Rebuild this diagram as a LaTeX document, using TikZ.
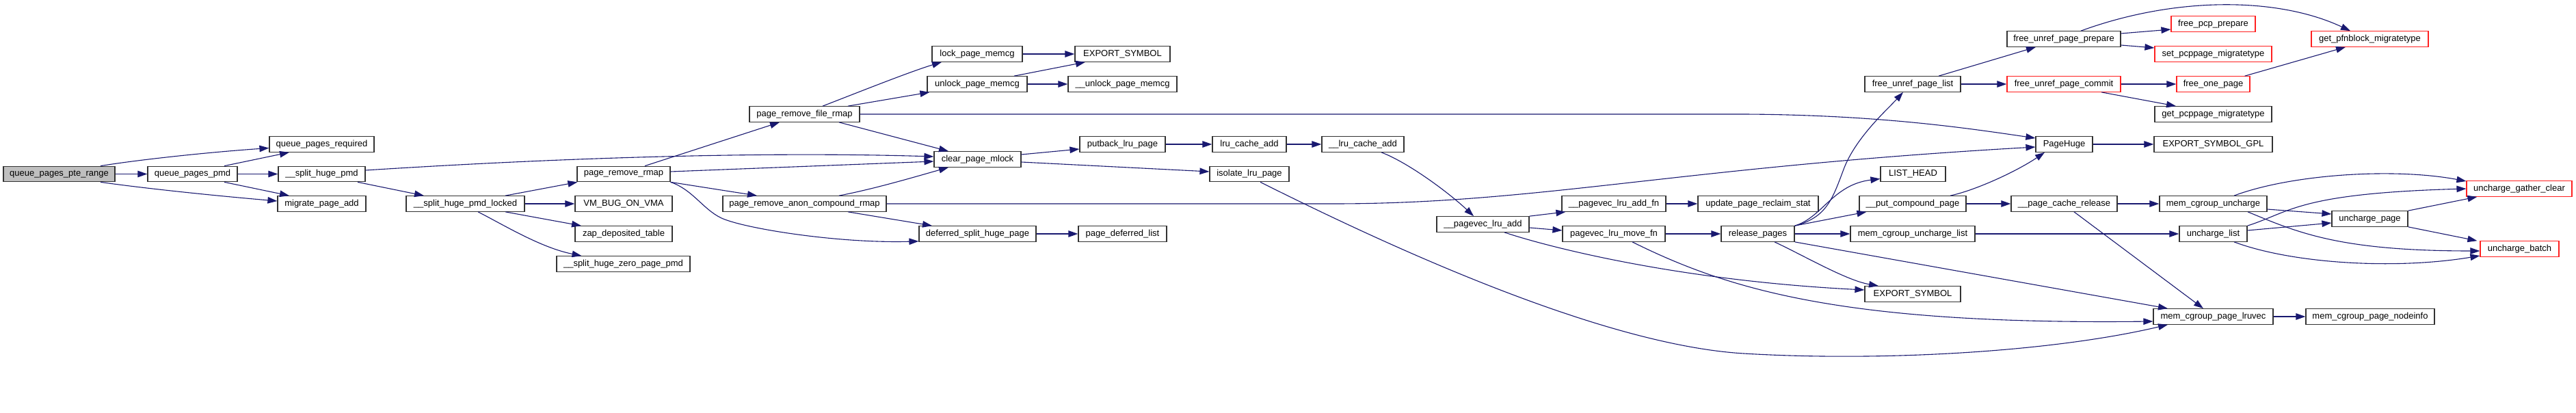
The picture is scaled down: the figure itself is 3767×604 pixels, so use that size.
\documentclass[tikz,border=0pt]{standalone}
\usepackage{fontspec}
\setmainfont{Liberation Sans}
\usetikzlibrary{arrows.meta}
\definecolor{edgeblue}{HTML}{191970}
\definecolor{nodeborder}{HTML}{333333}
\definecolor{rootfill}{HTML}{BFBFBF}
\definecolor{trunc}{HTML}{FF2020}
\begin{document}
\begin{tikzpicture}[x=1pt,y=1pt,
  fn/.style={draw=nodeborder, line width=1.2pt, fill=white, minimum height=22.5pt, inner sep=0pt, font=\fontsize{13}{15}\selectfont},
  tr/.style={fn, draw=trunc},
  root/.style={fn, fill=rootfill},
  edge/.style={draw=edgeblue, line width=1.1pt, -{Triangle[length=14pt,width=9.5pt]}}
]
\useasboundingbox (0,0) rectangle (3767,-604);
\fill[white] (0,0) rectangle (3767,-604);

\node[root, minimum width=163pt] (qpte) at (86.5,-254.5) {queue\_pages\_pte\_range};
\node[fn, minimum width=131pt] (qpmd) at (281.5,-254.5) {queue\_pages\_pmd};
\node[fn, minimum width=153pt] (qreq) at (470.5,-211) {queue\_pages\_required};
\node[fn, minimum width=127pt] (shpmd) at (470.5,-254.5) {\_\_split\_huge\_pmd};
\node[fn, minimum width=129pt] (mpa) at (470.5,-298) {migrate\_page\_add};
\node[fn, minimum width=173pt] (shpl) at (680.5,-298) {\_\_split\_huge\_pmd\_locked};
\node[fn, minimum width=136pt] (prr) at (912,-254.5) {page\_remove\_rmap};
\node[fn, minimum width=142pt] (vmbug) at (912,-298) {VM\_BUG\_ON\_VMA};
\node[fn, minimum width=142pt] (zap) at (912,-342) {zap\_deposited\_table};
\node[fn, minimum width=195pt] (shzp) at (911.5,-386) {\_\_split\_huge\_zero\_page\_pmd};
\node[fn, minimum width=161pt] (prfr) at (1176.5,-167) {page\_remove\_file\_rmap};
\node[fn, minimum width=239pt] (pracr) at (1176.5,-298) {page\_remove\_anon\_compound\_rmap};
\node[fn, minimum width=132pt] (lpm) at (1429,-79) {lock\_page\_memcg};
\node[fn, minimum width=146pt] (upm) at (1429,-123) {unlock\_page\_memcg};
\node[fn, minimum width=127pt] (cpm) at (1429.5,-233) {clear\_page\_mlock};
\node[fn, minimum width=171pt] (dshp) at (1429.5,-342) {deferred\_split\_huge\_page};
\node[fn, minimum width=139pt] (esa) at (1641.5,-79) {EXPORT\_SYMBOL};
\node[fn, minimum width=159pt] (uupm) at (1641.5,-123) {\_\_unlock\_page\_memcg};
\node[fn, minimum width=125pt] (plp) at (1641.5,-211) {putback\_lru\_page};
\node[fn, minimum width=129pt] (pdl) at (1641.5,-342) {page\_deferred\_list};
\node[fn, minimum width=108pt] (lca) at (1827,-211) {lru\_cache\_add};
\node[fn, minimum width=116pt] (ilp) at (1827,-254.5) {isolate\_lru\_page};
\node[fn, minimum width=120pt] (ulca) at (1993,-211) {\_\_lru\_cache\_add};
\node[fn, minimum width=135pt] (pla) at (2168.5,-328) {\_\_pagevec\_lru\_add};
\node[fn, minimum width=152pt] (plafn) at (2360,-298) {\_\_pagevec\_lru\_add\_fn};
\node[fn, minimum width=150pt] (plmf) at (2360,-342) {pagevec\_lru\_move\_fn};
\node[fn, minimum width=176pt] (uprs) at (2571,-298) {update\_page\_reclaim\_stat};
\node[fn, minimum width=107pt] (rp) at (2570.5,-342) {release\_pages};
\node[fn, minimum width=140pt] (fupl) at (2797,-123) {free\_unref\_page\_list};
\node[fn, minimum width=95pt] (lh) at (2797.5,-254.5) {LIST\_HEAD};
\node[fn, minimum width=156pt] (pcp) at (2797,-298) {\_\_put\_compound\_page};
\node[fn, minimum width=182pt] (mcul) at (2797,-342) {mem\_cgroup\_uncharge\_list};
\node[fn, minimum width=140pt] (esb) at (2797,-430) {EXPORT\_SYMBOL};
\node[fn, minimum width=166pt] (fupp) at (3018,-57) {free\_unref\_page\_prepare};
\node[tr, minimum width=166pt] (fupc) at (3018,-123) {free\_unref\_page\_commit};
\node[fn, minimum width=83pt] (ph) at (3018.5,-211) {PageHuge};
\node[fn, minimum width=155pt] (pcr) at (3018.5,-298) {\_\_page\_cache\_release};
\node[tr, minimum width=123pt] (fpp) at (3236.5,-35) {free\_pcp\_prepare};
\node[tr, minimum width=171pt] (spm) at (3236.5,-79) {set\_pcppage\_migratetype};
\node[tr, minimum width=107pt] (fop) at (3236.5,-123) {free\_one\_page};
\node[fn, minimum width=171pt] (gpm) at (3236.5,-167) {get\_pcppage\_migratetype};
\node[fn, minimum width=173pt] (esg) at (3236.5,-211) {EXPORT\_SYMBOL\_GPL};
\node[fn, minimum width=157pt] (mcu) at (3236.5,-298) {mem\_cgroup\_uncharge};
\node[fn, minimum width=99pt] (ul) at (3236.5,-342) {uncharge\_list};
\node[fn, minimum width=175pt] (mcpl) at (3236.5,-463) {mem\_cgroup\_page\_lruvec};
\node[tr, minimum width=171pt] (gpfn) at (3465.5,-57) {get\_pfnblock\_migratetype};
\node[tr, minimum width=154pt] (ugc) at (3684,-276) {uncharge\_gather\_clear};
\node[fn, minimum width=111pt] (up) at (3465.5,-320) {uncharge\_page};
\node[tr, minimum width=115pt] (ub) at (3684.5,-364) {uncharge\_batch};
\node[fn, minimum width=188pt] (mcpn) at (3466,-463) {mem\_cgroup\_page\_nodeinfo};

\draw[edge] ([xshift=60.5pt]qpte.north) .. controls (200,-234) and (300,-223) .. ([yshift=-5.5pt]qreq.west);
\draw[edge] (qpte.east) -- (qpmd.west);
\draw[edge] ([xshift=60.5pt]qpte.south) .. controls (200,-274) and (300,-285) .. ([yshift=4pt]mpa.west);
\draw[edge] ([xshift=46.5pt]qpmd.north) -- ([xshift=-47.5pt]qreq.south);
\draw[edge] (qpmd.east) -- (shpmd.west);
\draw[edge] ([xshift=46.5pt]qpmd.south) -- ([xshift=-47.5pt]mpa.north);
\draw[edge] ([yshift=5.5pt]shpmd.east) .. controls (800,-232) and (1100,-221) .. ([yshift=4pt]cpm.west);
\draw[edge] ([xshift=52.5pt]shpmd.south) -- ([xshift=-60.5pt]shpl.north);
\draw[edge] ([xshift=58.5pt]shpl.north) -- ([xshift=1pt]prr.south west);
\draw[edge] (shpl.east) -- (vmbug.west);
\draw[edge] ([xshift=58.5pt]shpl.south) -- ([xshift=-62pt]zap.north);
\draw[edge] ([xshift=18.5pt]shpl.south) .. controls (735,-328) and (790,-362) .. ([xshift=-61pt]shzp.north);
\draw[edge] ([xshift=31pt]prr.north) -- ([xshift=-36.5pt]prfr.south);
\draw[edge] ([yshift=3.5pt]prr.east) -- ([yshift=-3pt]cpm.west);
\draw[edge] (prr.south east) -- ([xshift=-69.5pt]pracr.north);
\draw[edge] (prr.south east) .. controls (1015,-278) and (1030,-310) .. (1060,-321) .. controls (1100,-336) and (1230,-356) .. ([yshift=1pt]dshp.south west);
\draw[edge] ([xshift=26.5pt]prfr.north) .. controls (1250,-137) and (1330,-105) .. ([xshift=-52pt]lpm.south);
\draw[edge] ([xshift=63.5pt]prfr.north) -- ([xshift=4pt]upm.south west);
\draw[edge] (prfr.east) -- (2550,-167) .. controls (2750,-168) and (2880,-188) .. ([yshift=9pt]ph.west);
\draw[edge] ([xshift=50.5pt]prfr.south) -- ([xshift=-42.5pt]cpm.north);
\draw[edge] ([xshift=50.5pt]pracr.north) .. controls (1280,-276) and (1340,-258) .. ([xshift=-42.5pt]cpm.south);
\draw[edge] (pracr.east) -- (1950,-298) .. controls (2250,-298) and (2450,-245) .. ([yshift=-4pt]ph.west);
\draw[edge] ([xshift=63.5pt]pracr.south) -- ([xshift=-66.5pt]dshp.north);
\draw[edge] (lpm.east) -- (esa.west);
\draw[edge] ([xshift=54pt]upm.north) -- ([xshift=-54.5pt]esa.south);
\draw[edge] (upm.east) -- (uupm.west);
\draw[edge] (dshp.east) -- (pdl.west);
\draw[edge] ([yshift=7pt]cpm.east) -- ([yshift=-7pt]plp.west);
\draw[edge] ([yshift=-4pt]cpm.east) -- ([yshift=3.5pt]ilp.west);
\draw[edge] (plp.east) -- (lca.west);
\draw[edge] (lca.east) -- (ulca.west);
\draw[edge] ([xshift=27pt]ulca.south) .. controls (2060,-238) and (2120,-283) .. ([xshift=-13.5pt]pla.north);
\draw[edge] ([xshift=16pt]ilp.south) .. controls (2050,-370) and (2350,-505) .. (2550,-517) .. controls (2750,-529) and (3000,-515) .. ([xshift=-66.5pt]mcpl.south);
\draw[edge] (pla.north east) -- ([xshift=6pt]plafn.south west);
\draw[edge] ([yshift=-5pt]pla.east) -- ([yshift=5pt]plmf.west);
\draw[edge] ([xshift=31.5pt]pla.south) .. controls (2260,-360) and (2450,-410) .. ([yshift=6pt]esb.west);
\draw[edge] (plafn.east) -- (uprs.west);
\draw[edge] (plmf.east) -- (rp.west);
\draw[edge] ([xshift=27pt]plmf.south) .. controls (2530,-425) and (2700,-475) .. ([yshift=-7pt]mcpl.west);
\draw[edge] (rp.north east) .. controls (2672,-318) and (2680,-290) .. (2697,-245) .. controls (2715,-200) and (2760,-160) .. ([xshift=-14pt]fupl.south);
\draw[edge] (rp.north east) .. controls (2665,-318) and (2680,-270) .. ([yshift=-7pt]lh.west);
\draw[edge] (rp.north east) -- ([xshift=11pt]pcp.south west);
\draw[edge] (rp.east) -- (mcul.west);
\draw[edge] ([xshift=24.5pt]rp.south) .. controls (2640,-375) and (2700,-410) .. ([xshift=-50pt]esb.north);
\draw[edge] (rp.south east) -- ([xshift=-66.5pt]mcpl.north);
\draw[edge] ([xshift=38pt]fupl.north) -- ([xshift=-41pt]fupp.south);
\draw[edge] (fupl.east) -- (fupc.west);
\draw[edge] ([xshift=55pt]pcp.north) .. controls (2890,-278) and (2950,-250) .. ([xshift=-28.5pt]ph.south);
\draw[edge] (pcp.east) -- (pcr.west);
\draw[edge] (mcul.east) -- (ul.west);
\draw[edge] ([xshift=25pt]fupp.north) .. controls (3180,5) and (3330,5) .. ([xshift=-28.5pt]gpfn.north);
\draw[edge] ([yshift=8pt]fupp.east) -- ([yshift=-8pt]fpp.west);
\draw[edge] ([yshift=-9pt]fupp.east) -- ([yshift=9pt]spm.west);
\draw[edge] (fupc.east) -- (fop.west);
\draw[edge] ([xshift=55pt]fupc.south) -- ([xshift=-54.5pt]gpm.north);
\draw[edge] ([xshift=-8pt]fop.north east) -- ([xshift=-35.5pt]gpfn.south);
\draw[edge] (ph.east) -- (esg.west);
\draw[edge] (pcr.east) -- (mcu.west);
\draw[edge] ([xshift=14.5pt]pcr.south) -- ([xshift=-14.5pt]mcpl.north);
\draw[edge] ([xshift=30.5pt]mcu.north) .. controls (3350,-255) and (3500,-245) .. ([yshift=11pt]ugc.west);
\draw[edge] ([yshift=-8pt]mcu.east) -- ([yshift=7pt]up.west);
\draw[edge] ([xshift=50.5pt]mcu.south) .. controls (3360,-340) and (3420,-367) .. ([yshift=-3pt]ub.west);
\draw[edge] (ul.north east) .. controls (3350,-310) and (3360,-283) .. (ugc.west);
\draw[edge] ([yshift=5pt]ul.east) -- ([yshift=-6pt]up.west);
\draw[edge] ([xshift=30.5pt]ul.south) .. controls (3350,-385) and (3500,-395) .. ([yshift=-10pt]ub.west);
\draw[edge] (up.north east) -- ([xshift=16pt]ugc.south west);
\draw[edge] (up.south east) -- ([xshift=-4pt]ub.north west);
\draw[edge] (mcpl.east) -- (mcpn.west);
\end{tikzpicture}
\end{document}
